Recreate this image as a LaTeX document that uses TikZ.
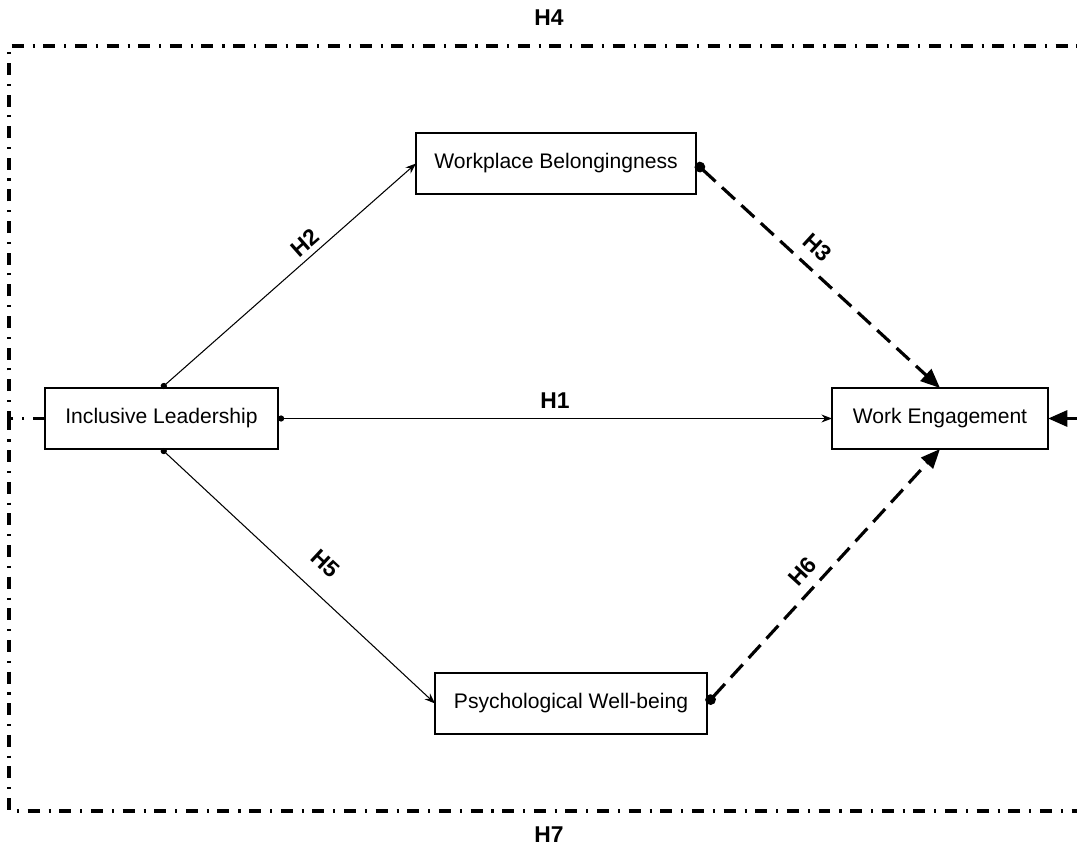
\documentclass[tikz,border=0pt]{standalone}
\usepackage{fontspec}
\setmainfont{Liberation Sans}
\usetikzlibrary{arrows.meta}

\begin{document}
\begin{tikzpicture}[
    every node/.style={font=\fontsize{12}{14}\selectfont},
    bloc/.style={draw, line width=0.8pt, minimum height=1.22cm,
        inner sep=0pt, outer sep=0pt},
    hip/.style={font=\fontsize{13}{15}\selectfont\bfseries, inner sep=0pt},
    fletxa/.style={line width=0.6pt,
        {Circle[length=3.5pt]}-{Stealth[length=6pt,width=4.5pt]}},
    mediacio/.style={line width=1.8pt, dash pattern=on 10pt off 5pt,
        {Circle[length=6pt]}-{Triangle[length=11pt,width=9pt]}},
    marc/.style={line width=2pt,
        dash pattern=on 6.8pt off 5.1pt on 1.2pt off 4.9pt}
    ]
    \useasboundingbox (0,0) rectangle (21.54,16.94);

    \node[bloc, minimum width=4.66cm] (il) at (3.23,8.57) {Inclusive Leadership};
    \node[bloc, minimum width=5.6cm] (wb) at (11.12,13.67) {Workplace Belongingness};
    \node[bloc, minimum width=4.32cm] (we) at (18.8,8.57) {Work Engagement};
    \node[bloc, minimum width=5.44cm] (pw) at (11.42,2.87) {Psychological Well-being};

    \coordinate (fl) at (0.18,8.57);
    \coordinate (ftl) at (0.18,16.02);
    \coordinate (ftr) at (21.54,16.02);
    \coordinate (fbl) at (0.18,0.72);
    \coordinate (fbr) at (21.54,0.72);
    \coordinate (fr) at (21.54,8.57);

    \draw[marc] (il.west) -- (fl) -- (ftl) -- (ftr);
    \draw[marc] (fl) -- (fbl) -- (fbr);
    \draw[marc, -{Triangle[length=11pt,width=9pt]}] (fr) -- (we.east);
    \node[hip] (h4) at (10.98,16.58) {H4};
    \node[hip] (h7) at (10.98,0.24) {H7};

    \draw[fletxa] (il.east) -- node[hip, above=5.5pt] {H1} (we.west);
    \draw[fletxa] (il.north) -- node[hip, pos=0.6, above=3pt, sloped] {H2} (wb.west);
    \draw[fletxa] (il.south) -- node[hip, pos=0.53, above=11pt, sloped] {H5} (pw.west);
    \draw[mediacio] (wb.east) -- node[hip, pos=0.44, above=6pt, sloped] {H3} (we.north);
    \draw[mediacio] (pw.east) -- node[hip, pos=0.47, above=5pt, sloped] {H6} (we.south);
\end{tikzpicture}
\end{document}
